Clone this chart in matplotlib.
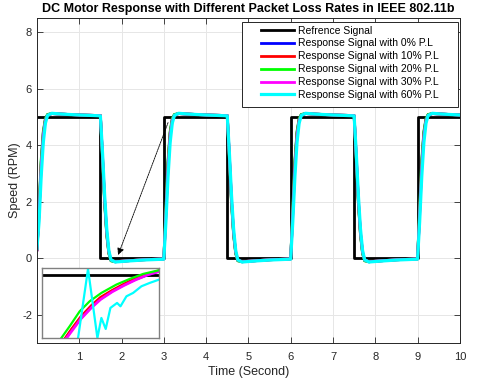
import matplotlib
matplotlib.use("Agg")
import matplotlib.pyplot as plt
from matplotlib.patches import Rectangle

plt.rcParams['font.family'] = ['Liberation Sans', 'DejaVu Sans']
plt.rcParams['axes.unicode_minus'] = False

# ---------------- data ----------------
time = [0.00, 0.05, 0.10, 0.15, 0.20, 0.25, 0.35, 0.60, 1.00, 1.50, 1.55, 1.60, 1.65, 1.70, 1.75, 1.85, 2.10, 2.50,
        3.00, 3.05, 3.10, 3.15, 3.20, 3.25, 3.35, 3.60, 4.00, 4.50, 4.55, 4.60, 4.65, 4.70, 4.75, 4.85, 5.10, 5.50,
        6.00, 6.05, 6.10, 6.15, 6.20, 6.25, 6.35, 6.60, 7.00, 7.50, 7.55, 7.60, 7.65, 7.70, 7.75, 7.85, 8.10, 8.50,
        9.00, 9.05, 9.10, 9.15, 9.20, 9.25, 9.35, 9.60, 10.00]

ref_time = [0, 1.5, 1.5, 3, 3, 4.5, 4.5, 6, 6, 7.5, 7.5, 9, 9, 10]
ref_speed = [5, 5, 0, 0, 5, 5, 0, 0, 5, 5, 0, 0, 5, 5]

resp_0 = [0.30, 1.70, 3.40, 4.45, 4.92, 5.08, 5.12, 5.10, 5.07, 5.05, 3.55, 2.00, 0.85, 0.18, -0.08, -0.12, -0.09, -0.05,
          -0.02, 1.70, 3.40, 4.45, 4.92, 5.08, 5.12, 5.10, 5.07, 5.05, 3.55, 2.00, 0.85, 0.18, -0.08, -0.12, -0.09, -0.05,
          -0.02, 1.70, 3.40, 4.45, 4.92, 5.08, 5.12, 5.10, 5.07, 5.05, 3.55, 2.00, 0.85, 0.18, -0.08, -0.12, -0.09, -0.05,
          -0.02, 1.70, 3.40, 4.45, 4.92, 5.08, 5.12, 5.10, 5.07]
resp_10 = [0.30, 1.65, 3.35, 4.42, 4.90, 5.07, 5.12, 5.10, 5.07, 5.05, 3.60, 2.05, 0.88, 0.20, -0.07, -0.12, -0.09, -0.05,
           -0.02, 1.65, 3.35, 4.42, 4.90, 5.07, 5.12, 5.10, 5.07, 5.05, 3.60, 2.05, 0.88, 0.20, -0.07, -0.12, -0.09, -0.05,
           -0.02, 1.65, 3.35, 4.42, 4.90, 5.07, 5.12, 5.10, 5.07, 5.05, 3.60, 2.05, 0.88, 0.20, -0.07, -0.12, -0.09, -0.05,
           -0.02, 1.65, 3.35, 4.42, 4.90, 5.07, 5.12, 5.10, 5.07]
resp_20 = [0.32, 1.80, 3.50, 4.50, 4.95, 5.09, 5.12, 5.10, 5.07, 5.05, 3.50, 1.95, 0.82, 0.16, -0.09, -0.12, -0.09, -0.05,
           -0.02, 1.80, 3.50, 4.50, 4.95, 5.09, 5.12, 5.10, 5.07, 5.05, 3.50, 1.95, 0.82, 0.16, -0.09, -0.12, -0.09, -0.05,
           -0.02, 1.80, 3.50, 4.50, 4.95, 5.09, 5.12, 5.10, 5.07, 5.05, 3.50, 1.95, 0.82, 0.16, -0.09, -0.12, -0.09, -0.05,
           -0.02, 1.80, 3.50, 4.50, 4.95, 5.09, 5.12, 5.10, 5.07]
resp_30 = [0.30, 1.55, 3.25, 4.35, 4.88, 5.06, 5.12, 5.10, 5.07, 5.05, 3.65, 2.10, 0.92, 0.22, -0.06, -0.12, -0.09, -0.05,
           -0.02, 1.55, 3.25, 4.35, 4.88, 5.06, 5.12, 5.10, 5.07, 5.05, 3.65, 2.10, 0.92, 0.22, -0.06, -0.12, -0.09, -0.05,
           -0.02, 1.55, 3.25, 4.35, 4.88, 5.06, 5.12, 5.10, 5.07, 5.05, 3.65, 2.10, 0.92, 0.22, -0.06, -0.12, -0.09, -0.05,
           -0.02, 1.55, 3.25, 4.35, 4.88, 5.06, 5.12, 5.10, 5.07]
resp_60 = [0.35, 1.30, 2.90, 4.10, 4.78, 5.05, 5.13, 5.10, 5.07, 5.04, 3.75, 2.25, 1.05, 0.28, -0.05, -0.13, -0.10, -0.06,
           -0.03, 1.30, 2.90, 4.10, 4.78, 5.05, 5.13, 5.10, 5.07, 5.04, 3.75, 2.25, 1.05, 0.28, -0.05, -0.13, -0.10, -0.06,
           -0.03, 1.30, 2.90, 4.10, 4.78, 5.05, 5.13, 5.10, 5.07, 5.04, 3.75, 2.25, 1.05, 0.28, -0.05, -0.13, -0.10, -0.06,
           -0.03, 1.30, 2.90, 4.10, 4.78, 5.05, 5.13, 5.10, 5.07]

labels = ['Refrence Signal', 'Response Signal with 0% P.L', 'Response Signal with 10% P.L',
          'Response Signal with 20% P.L', 'Response Signal with 30% P.L', 'Response Signal with 60% P.L']
xticks = [1, 2, 3, 4, 5, 6, 7, 8, 9, 10]
yticks = [-2, 0, 2, 4, 6, 8]

# inset (zoomed detail, normalised units)
ins_ref_x = [0.0, 1.0]
ins_ref_y = [0.90, 0.90]
ins_g_x = [0.165, 0.236, 0.322, 0.407, 0.507, 0.635, 0.749, 0.863, 1.0]
ins_g_y = [0.0, 0.167, 0.381, 0.524, 0.643, 0.762, 0.843, 0.914, 0.967]
ins_b_x = [0.205, 0.25, 0.33, 0.42, 0.50, 0.60, 0.70, 0.80, 0.90, 1.0]
ins_b_y = [0.0, 0.11, 0.28, 0.44, 0.56, 0.67, 0.76, 0.84, 0.90, 0.955]
ins_r_x = [0.20, 0.25, 0.33, 0.42, 0.50, 0.60, 0.70, 0.80, 0.90, 1.0]
ins_r_y = [0.0, 0.12, 0.30, 0.46, 0.58, 0.68, 0.77, 0.85, 0.91, 0.96]
ins_m_x = [0.21, 0.25, 0.33, 0.42, 0.50, 0.60, 0.70, 0.80, 0.90, 1.0]
ins_m_y = [0.0, 0.09, 0.27, 0.43, 0.55, 0.66, 0.75, 0.83, 0.90, 0.95]
ins_c_x = [0.308, 0.393, 0.473, 0.507, 0.544, 0.584, 0.641, 0.670, 0.721, 0.778, 0.849, 0.920, 1.0]
ins_c_y = [0.0, 0.986, 0.0, 0.286, 0.129, 0.429, 0.50, 0.452, 0.595, 0.643, 0.738, 0.786, 0.833]

# ---------------- plot ----------------
W, H = 480, 383
fig = plt.figure(figsize=(4.8, 3.83), dpi=100)
ax = fig.add_axes([0.077, 0.104, 0.881, 0.849])

tc = '#262626'
ax.plot(ref_time, ref_speed, color='black', lw=2.0, label=labels[0])
ax.plot(time, resp_0, color='#0000ff', lw=2.0, label=labels[1])
ax.plot(time, resp_10, color='#ff0000', lw=2.0, label=labels[2])
ax.plot(time, resp_20, color='#00ff00', lw=2.0, label=labels[3])
ax.plot(time, resp_30, color='#ff00ff', lw=2.0, label=labels[4])
ax.plot(time, resp_60, color='#00ffff', lw=2.3, label=labels[5])

ax.set_xlim(0, 10)
ax.set_ylim(-3, 8.5)
ax.set_xticks(xticks)
ax.set_yticks(yticks)
ax.tick_params(direction='in', length=4, labelsize=8, colors=tc, top=True, right=True, width=0.6)
ax.tick_params(axis='x', pad=6.5)
for s in ax.spines.values():
    s.set_color(tc)
    s.set_linewidth(0.7)
ax.grid(True, color='#e6e6e6', lw=0.7)
ax.set_axisbelow(True)
ax.set_xlabel('Time (Second)', fontsize=9, color=tc, labelpad=3)
ax.set_ylabel('Speed (RPM)', fontsize=9, color=tc, labelpad=1)
ax.set_title('DC Motor Response with Different Packet Loss Rates in IEEE 802.11b',
             fontsize=9, fontweight='bold', pad=4)

# legend with a MATLAB-like padded frame
frame = Rectangle((242 / W, 1 - 107 / H), (458 - 242) / W, 85 / H, transform=fig.transFigure,
                  facecolor='white', edgecolor=tc, lw=0.7, zorder=4.9, clip_on=False)
ax.add_patch(frame)
leg = ax.legend(loc='upper left', bbox_to_anchor=(261 / W, 1 - 25.5 / H), bbox_transform=fig.transFigure,
                fontsize=7.5, frameon=False, handlelength=3.17, labelspacing=0.28,
                borderaxespad=0, borderpad=0, handletextpad=0.4)

ax.annotate('', xy=(1.92, 0.12), xytext=(3.1, 4.8),
            arrowprops=dict(arrowstyle='-|>', color='black', lw=0.6, ls=(0, (2, 1)),
                            mutation_scale=10, shrinkA=0, shrinkB=0))

# inset
ins = fig.add_axes([0.0875, 0.1175, 0.244, 0.183])
ins.plot(ins_ref_x, ins_ref_y, color='black', lw=2.0)
ins.plot(ins_b_x, ins_b_y, color='#0000ff', lw=2.0)
ins.plot(ins_r_x, ins_r_y, color='#ff0000', lw=2.0)
ins.plot(ins_m_x, ins_m_y, color='#ff00ff', lw=2.0)
ins.plot(ins_g_x, ins_g_y, color='#00ff00', lw=1.6)
ins.plot(ins_c_x, ins_c_y, color='#00ffff', lw=1.6)
ins.set_xlim(0, 1)
ins.set_ylim(0, 1)
ins.set_xticks([])
ins.set_yticks([])
for s in ins.spines.values():
    s.set_color('#808080')
    s.set_linewidth(1.0)

fig.savefig('out.png', dpi=100)
